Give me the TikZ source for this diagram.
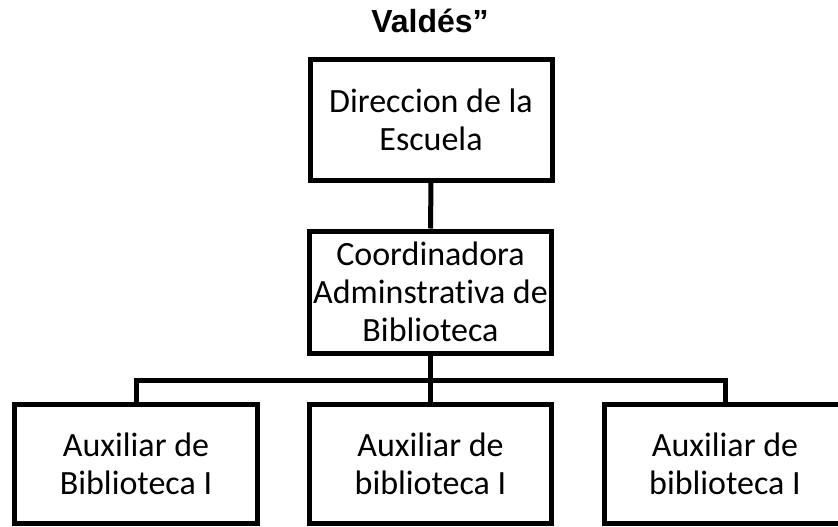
\documentclass[tikz,border=0pt]{standalone}
\usepackage{fontspec}
\setmainfont{Carlito}[Ligatures=NoCommon]
\newfontfamily\titlefont{Liberation Sans}
\begin{document}
\begin{tikzpicture}[x=1pt,y=-1pt,
  orgbox/.style={draw=black,line width=5pt,align=center,inner sep=0pt,
    font=\fontsize{34}{38}\selectfont,minimum width=242pt},
  conn/.style={line width=5pt}]
\useasboundingbox (0,0) rectangle (838,527);
\clip (0,0) rectangle (838,527);
\node[anchor=base,font=\titlefont\bfseries\fontsize{32}{36}\selectfont] (title) at (430,33) {Valdés”};
\node[orgbox,minimum height=120pt] (dir) at (431,120) {Direccion de la\\Escuela};
\node[orgbox,minimum height=122pt] (coord) at (430.5,292) {Coordinadora\\Adminstrativa de\\Biblioteca};
\node[orgbox,minimum height=119pt,minimum width=243pt] (aux1) at (136,463.5) {Auxiliar de\\Biblioteca I};
\node[orgbox,minimum height=119pt] (aux2) at (430.5,463.5) {Auxiliar de\\biblioteca I};
\node[orgbox,minimum height=119pt] (aux3) at (725,463.5) {Auxiliar de\\biblioteca I};
\coordinate (bar) at (430.5,380);
\draw[conn] (dir.south) -- (coord.north);
\draw[conn] (coord.south) -- (aux2.north);
\draw[conn] (aux1.north) |- (bar) -| (aux3.north);
\end{tikzpicture}
\end{document}
